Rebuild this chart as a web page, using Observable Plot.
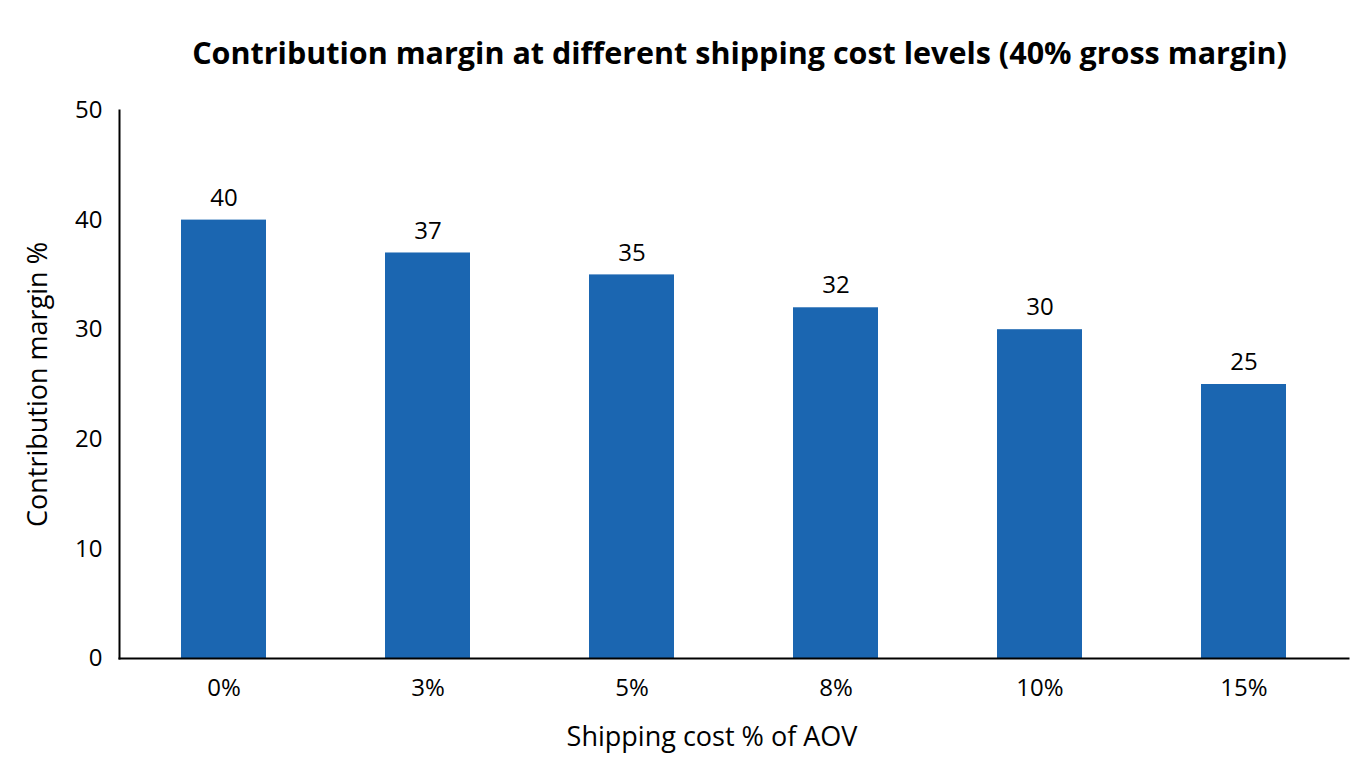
<!DOCTYPE html>
<html>
<head>
<meta charset="utf-8">
<script src="https://cdn.jsdelivr.net/npm/d3@7"></script>
<script src="https://cdn.jsdelivr.net/npm/@observablehq/plot@0.6"></script>
<style>
  body { margin: 0; background: #fff; font-family: "Open Sans", "Noto Sans", sans-serif; }
  #title { height: 75px; box-sizing: border-box; padding-top: 30px; padding-left: 119px; width: 1360px; text-align: center; font-weight: 700; font-size: 30.5px; color: #000; line-height: 44px; white-space: nowrap; }
</style>
</head>
<body>
<div id="title">Contribution margin at different shipping cost levels (40% gross margin)</div>
<div id="chart"></div>
<script>
const categories = ["0%", "3%", "5%", "8%", "10%", "15%"];
const margins = [40, 37, 35, 32, 30, 25];
const yTicks = [0, 10, 20, 30, 40, 50];
const xLabel = "Shipping cost % of AOV";
const yLabel = "Contribution margin %";

const data = categories.map((c, i) => ({ shipping: c, margin: margins[i] }));

const chart = Plot.plot({
  width: 1360,
  height: 693,
  marginLeft: 119,
  marginRight: 12,
  marginTop: 35,
  marginBottom: 110,
  style: { fontFamily: "'Open Sans', 'Noto Sans', sans-serif", fontSize: "24px", color: "#000", background: "#fff", overflow: "visible" },
  x: { domain: categories, paddingInner: 0.585, paddingOuter: 0.295, label: null },
  y: { domain: [0, 50], label: null },
  marks: [
    Plot.barY(data, { x: "shipping", y: "margin", fill: "#1b66b1" }),
    Plot.text(data, { x: "shipping", y: "margin", text: d => String(d.margin), dy: -22, fontSize: 24, fill: "#000" }),
    Plot.axisY({ ticks: yTicks, tickSize: 0, tickPadding: 17, fontSize: 24, label: null }),
    Plot.axisX({ tickSize: 0, tickPadding: 20, fontSize: 24, label: null }),
    Plot.frame({ anchor: "left", stroke: "#000", strokeWidth: 2 }),
    Plot.frame({ anchor: "bottom", stroke: "#000", strokeWidth: 2 }),
    Plot.text([xLabel], { frameAnchor: "bottom", dy: 79, dx: -22, lineAnchor: "middle", textAnchor: "middle", fontSize: 27, fill: "#000" }),
    Plot.text([yLabel], { frameAnchor: "left", dx: -81, rotate: -90, lineAnchor: "middle", textAnchor: "middle", fontSize: 27, fill: "#000" })
  ]
});
document.getElementById("chart").appendChild(chart);
</script>
</body>
</html>
